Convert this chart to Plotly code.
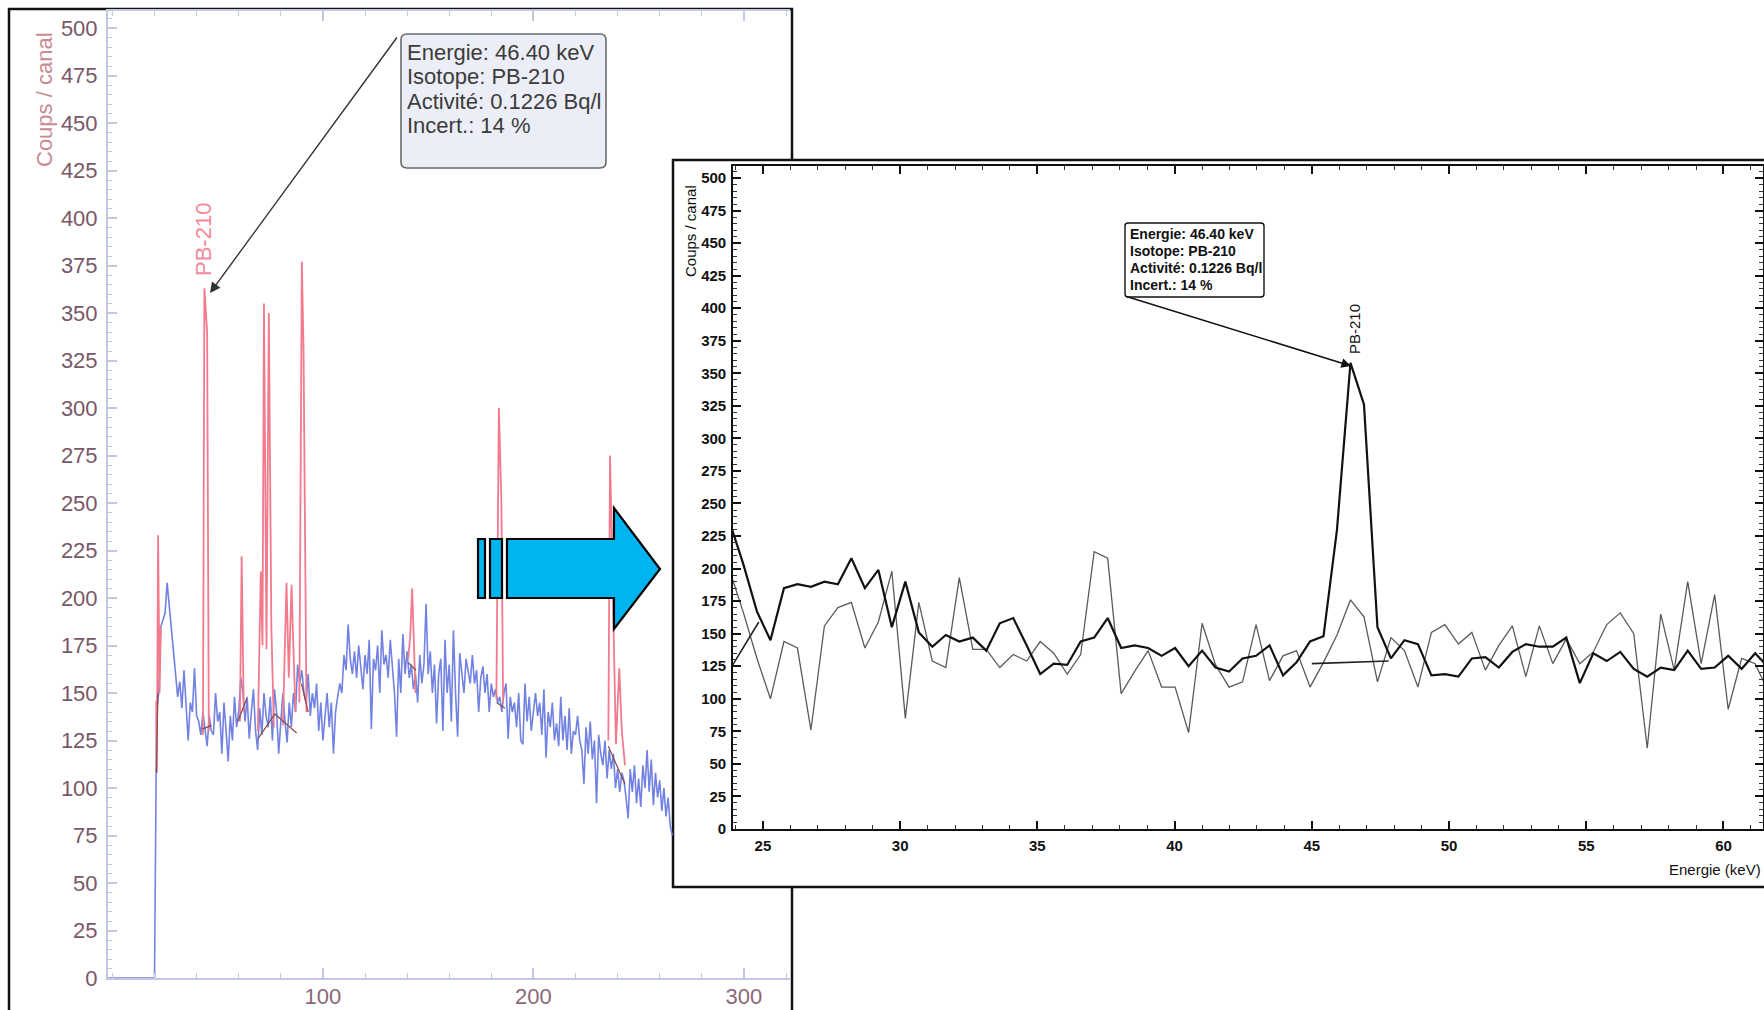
import plotly.graph_objects as go

W, H = 1764, 1010

# ---------------- DATA ----------------
# Left spectrum (energy in keV, counts per channel)
blue_floor_kev = [-2, 20]
blue_floor_counts = [0, 0]
blue_kev_start = 20          # first channel of blue_counts (1 keV channels)
blue_counts = [
    0,
    140, 150, 185, 188, 192, 208, 196, 188, 176, 160,
    148, 156, 142, 162, 146, 125, 145, 140, 163, 138,
    135, 128, 140, 132, 122, 138, 130, 128, 150, 135,
    140, 118, 145, 130, 114, 138, 125, 148, 132, 140,
    158, 150, 135, 148, 126, 140, 152, 130, 120, 142,
    128, 150, 138, 132, 148, 125, 152, 140, 118, 135,
    150, 135, 124, 145, 132, 150, 140, 165, 155, 162,
    150, 145, 160, 138, 150, 142, 155, 130, 145, 125,
    140, 150, 132, 145, 118, 140, 148, 155, 150, 170,
    162, 186, 168, 160, 172, 158, 175, 165, 152, 170,
    160, 178, 131, 168, 162, 175, 150, 183, 165, 170,
    158, 178, 165, 150, 127, 168, 150, 181, 160, 172,
    158, 165, 152, 160, 145, 170, 155, 165, 197, 160,
    172, 150, 165, 134, 160, 168, 130, 178, 150, 165,
    135, 183, 150, 127, 171, 160, 150, 168, 162, 155,
    170, 155, 162, 140, 158, 164, 150, 160, 140, 155,
    148, 152, 145, 148, 140, 150, 155, 126, 148, 140,
    145, 132, 150, 125, 123, 155, 135, 148, 130, 142,
    150, 138, 145, 128, 152, 116, 140, 132, 145, 125,
    134, 122, 148, 125, 138, 120, 142, 118, 130, 128,
    138, 125, 120, 102, 132, 118, 135, 115, 125, 92,
    128, 118, 112, 125, 105, 120, 110, 118, 100, 110,
    98, 108, 104, 95, 84, 110, 98, 112, 92, 105,
    90, 112, 100, 120, 98, 115, 91, 108, 95, 104,
    88, 100, 85, 95, 80, 75,
]

# Red: sample spectrum where it rises above the background (peaks)
red_kev = [20.8, 21.1, 21.7, 22.4, 23.0, None,
           43.0, 43.7, 45.0, 45.8, None,
           60.6, 61.4, 62.4, None,
           69.1, 70.5, 71.3, 72.0, 73.2, 74.3, 75.5, 76.7, None,
           81.0, 82.7, 83.8, 85.1, 85.8, 87.0, None,
           88.8, 90.0, 90.8, 92.2, None,
           140.5, 141.5, 142.4, 143.2, 144.0, None,
           182.4, 183.6, 184.8, 185.6, None,
           235.6, 236.4, 237.8, 239.2, 240.8, 242.0, 243.5]
red_counts = [146, 108, 233, 150, 185, None,
              128, 363, 340, 130, None,
              135, 222, 140, None,
              130, 214, 175, 355, 173, 350, 185, 132, None,
              133, 208, 158, 207, 180, 140, None,
              145, 377, 330, 140, None,
              168, 180, 205, 175, 150, None,
              147, 300, 250, 145, None,
              125, 275, 200, 123, 163, 130, 112]

# Peak baselines (left)
base_kev = [20.9, 21.6, None, 42.8, 47.0, None, 59.6, 63.8, None,
            69.2, 77.2, 87.5, None, 89.8, 93.0, None, 140.6, 144.2, None,
            182.5, 186.5, None, 235.6, 243.5]
base_counts = [108, 150, None, 131, 133, None, 135, 147, None,
               126, 139, 129, None, 155, 140, None, 166, 162, None,
               145, 142, None, 122, 102]

# Right (zoomed) spectrum: channels of 0.4915 keV starting at 23.8 keV
zoom_kev_start = 23.8
zoom_kev_step = 0.4915
sample_counts = [
    235, 203, 167, 145, 185, 188, 186, 190, 188, 208,
    185, 199, 155, 190, 151, 140, 149, 144, 147, 137,
    158, 162, 141, 119, 127, 126, 144, 147, 162, 139,
    141, 139, 133, 139, 125, 137, 124, 121, 131, 133,
    141, 118, 128, 144, 148, 230, 358, 326, 155, 131,
    145, 142, 118, 119, 117, 131, 132, 124, 136, 142,
    140, 140, 147, 112, 135, 129, 136, 123, 117, 124,
    122, 137, 123, 124, 133, 123, 135, 124,
]
background_counts = [
    198, 166, 131, 100, 144, 139, 76, 156, 170, 174,
    139, 159, 198, 85, 174, 129, 124, 193, 138, 138,
    124, 134, 129, 144, 135, 119, 134, 213, 208, 104,
    121, 137, 109, 109, 74, 158, 126, 109, 113, 157,
    114, 133, 137, 109, 128, 149, 176, 163, 113, 147,
    137, 109, 151, 157, 142, 151, 122, 141, 156, 117,
    156, 127, 146, 127, 136, 157, 166, 150, 62, 165,
    122, 190, 127, 180, 92, 131, 127, 105,
]
zoom_base_kev = [23.9, 24.85, None, 45.0, 47.8]
zoom_base_counts = [126, 159, None, 127, 129]

left_xticks = [100, 200, 300]
zoom_xticks = [25, 30, 35, 40, 45, 50, 55, 60]
annot_lines = ["Energie: 46.40 keV", "Isotope: PB-210",
               "Activité: 0.1226 Bq/l", "Incert.: 14 %"]
peak_label = "PB-210"
y_title = "Coups / canal"
x_title = "Energie (keV)"

# ---------------- helpers (pixel -> paper) ----------------
def px(x):
    return x / W

def py(y):
    return 1 - y / H

def path_from(points, close=True):
    s = "M " + " L ".join(f"{px(a):.5f},{py(b):.5f}" for a, b in points)
    return s + (" Z" if close else "")

def rounded_rect(x0, y0, x1, y1, r):
    P = lambda a, b: f"{px(a):.5f},{py(b):.5f}"
    return (f"M {P(x0 + r, y0)} L {P(x1 - r, y0)} Q {P(x1, y0)} {P(x1, y0 + r)} "
            f"L {P(x1, y1 - r)} Q {P(x1, y1)} {P(x1 - r, y1)} "
            f"L {P(x0 + r, y1)} Q {P(x0, y1)} {P(x0, y1 - r)} "
            f"L {P(x0, y0 + r)} Q {P(x0, y0)} {P(x0 + r, y0)} Z")

FONT = "Liberation Sans, Arial, sans-serif"

# ---------------- traces ----------------
blue_x = blue_floor_kev + [blue_kev_start + i for i in range(len(blue_counts))]
blue_y = blue_floor_counts + blue_counts
zoom_x = [zoom_kev_start + i * zoom_kev_step for i in range(len(sample_counts))]

fig = go.Figure()
fig.add_trace(go.Scatter(x=blue_x, y=blue_y, mode="lines",
                         line=dict(color="#7282e2", width=1.6),
                         xaxis="x", yaxis="y", hoverinfo="skip"))
fig.add_trace(go.Scatter(x=red_kev, y=red_counts, mode="lines",
                         line=dict(color="#f27a8c", width=1.8),
                         xaxis="x", yaxis="y", hoverinfo="skip"))
fig.add_trace(go.Scatter(x=base_kev, y=base_counts, mode="lines",
                         line=dict(color="#8a4848", width=1.2),
                         xaxis="x", yaxis="y", hoverinfo="skip"))

fig.add_trace(go.Scatter(x=zoom_x, y=background_counts, mode="lines",
                         line=dict(color="#5a5a5a", width=1.3),
                         xaxis="x2", yaxis="y2", hoverinfo="skip"))
fig.add_trace(go.Scatter(x=zoom_x, y=sample_counts, mode="lines",
                         line=dict(color="#111111", width=2.2),
                         xaxis="x2", yaxis="y2", hoverinfo="skip"))
fig.add_trace(go.Scatter(x=zoom_base_kev, y=zoom_base_counts, mode="lines",
                         line=dict(color="#222222", width=1.6),
                         xaxis="x2", yaxis="y2", hoverinfo="skip"))

# ---------------- axes ----------------
LAX = "#c3c7e2"
fig.update_layout(
    width=W, height=H, margin=dict(l=0, r=0, t=0, b=0, autoexpand=False),
    paper_bgcolor="white", plot_bgcolor="rgba(0,0,0,0)", showlegend=False,
    xaxis=dict(domain=[px(108), px(790)], range=[-2.1, 321.9], anchor="y",
               automargin=False,
               tickvals=left_xticks, ticks="inside", ticklen=10, tickwidth=1.5,
               tickcolor=LAX, showline=True, linecolor=LAX, linewidth=2,
               mirror="ticks", showgrid=False, zeroline=False,
               minor=dict(dtick=20, tick0=0, ticks="inside", ticklen=5,
                          tickcolor=LAX, tickwidth=1.2, showgrid=False),
               tickfont=dict(family=FONT, size=22, color="#8a6878"),
               ticklabelstandoff=-2),
    yaxis=dict(domain=[py(978), py(11)], range=[0, 509], anchor="x",
               automargin=False,
               dtick=25, tick0=0, ticks="inside", ticklen=9, tickwidth=1.5,
               tickcolor=LAX, showline=True, linecolor=LAX, linewidth=2,
               showgrid=False, zeroline=False,
               minor=dict(dtick=5, ticks="inside", ticklen=4, tickcolor=LAX,
                          tickwidth=1, showgrid=False),
               tickfont=dict(family=FONT, size=22, color="#785868"),
               ticklabelstandoff=4),
    xaxis2=dict(domain=[px(733), px(1763)], range=[23.91, 61.44], anchor="y2",
                automargin=False,
                tickvals=zoom_xticks, ticks="inside", ticklen=8, tickwidth=1.5,
                tickcolor="#111", showline=True, linecolor="#111", linewidth=1.6,
                mirror="ticks", showgrid=False, zeroline=False,
                minor=dict(dtick=1, tick0=0, ticks="inside", ticklen=4,
                           tickcolor="#333", tickwidth=1, showgrid=False),
                tickfont=dict(family=FONT, size=15, color="#111", weight="bold"),
                ticklabelstandoff=2),
    yaxis2=dict(domain=[py(829), py(166)], range=[0, 509.2], anchor="x2",
                automargin=False,
                dtick=25, tick0=0, ticks="inside", ticklen=8, tickwidth=1.5,
                tickcolor="#111", showline=True, linecolor="#111", linewidth=1.6,
                mirror="ticks", showgrid=False, zeroline=False,
                minor=dict(dtick=5, ticks="inside", ticklen=4, tickcolor="#333",
                           tickwidth=1, showgrid=False),
                tickfont=dict(family=FONT, size=15, color="#111", weight="bold"),
                ticklabelstandoff=2),
)

# ---------------- shapes ----------------
shapes = []
# left panel frame
shapes.append(dict(type="rect", xref="paper", yref="paper", layer="below",
                   x0=px(9), x1=px(792), y0=py(9), y1=-0.05,
                   line=dict(color="#111", width=2.5), fillcolor="white"))
# right panel (covers left one)
shapes.append(dict(type="rect", xref="paper", yref="paper", layer="below",
                   x0=px(673), x1=1.05, y0=py(160), y1=py(887),
                   line=dict(color="#111", width=2.5), fillcolor="white"))
# left info box
shapes.append(dict(type="path", xref="paper", yref="paper", layer="above",
                   path=rounded_rect(401, 34, 606, 168, 6),
                   line=dict(color="#6a6a6a", width=1.6), fillcolor="#eceef7"))
# right info box
shapes.append(dict(type="path", xref="paper", yref="paper", layer="above",
                   path=rounded_rect(1125, 223, 1264, 297, 3),
                   line=dict(color="#111", width=1.4), fillcolor="white"))
# blue block arrow
BLUE = "#00b4f0"
for pts in ([(478, 539), (485, 539), (485, 598), (478, 598)],
            [(490, 539), (502, 539), (502, 598), (490, 598)],
            [(507, 539), (614, 539), (614, 508), (660, 569), (614, 629),
             (614, 598), (507, 598)]):
    shapes.append(dict(type="path", xref="paper", yref="paper", layer="above",
                       path=path_from(pts), fillcolor=BLUE,
                       line=dict(color="#000", width=2.2)))
fig.update_layout(shapes=shapes)

# ---------------- annotations ----------------
ann = []
def text_at(x, y, text, size, color, angle=0, xanchor="center", weight="normal"):
    ann.append(dict(xref="paper", yref="paper", x=px(x), y=py(y), text=text,
                    showarrow=False, textangle=angle, xanchor=xanchor,
                    yanchor="middle",
                    font=dict(family=FONT, size=size, color=color, weight=weight)))

# left
text_at(45, 100, y_title, 22, "#c98a92", angle=-90)
text_at(203, 240, peak_label, 22, "#f28a9a", angle=-90)
for i, line in enumerate(annot_lines):
    text_at(405, 52 + i * 24.6, line, 22, "#3b3b3b", xanchor="left")
# right
text_at(691, 231, y_title, 15, "#111", angle=-90)
text_at(1354, 329, peak_label, 15, "#111", angle=-90)
for i, line in enumerate(annot_lines):
    text_at(1128, 234 + i * 17, line, 14, "#111", xanchor="left", weight="bold")
text_at(1667, 869, x_title, 15, "#111", xanchor="left")

# arrows
ann.append(dict(xref="paper", yref="paper", x=px(210), y=py(293), ax=188, ay=-257,
                text="", showarrow=True, arrowhead=2, arrowsize=1.5,
                arrowwidth=1.4, arrowcolor="#333"))
ann.append(dict(xref="paper", yref="paper", x=px(1351), y=py(366), ax=-226, ay=-70,
                text="", showarrow=True, arrowhead=2, arrowsize=1.2,
                arrowwidth=1.6, arrowcolor="#111"))
fig.update_layout(annotations=ann)

fig.write_html("out.html", config={"displayModeBar": False},
               post_script="document.body.style.margin='0';")
